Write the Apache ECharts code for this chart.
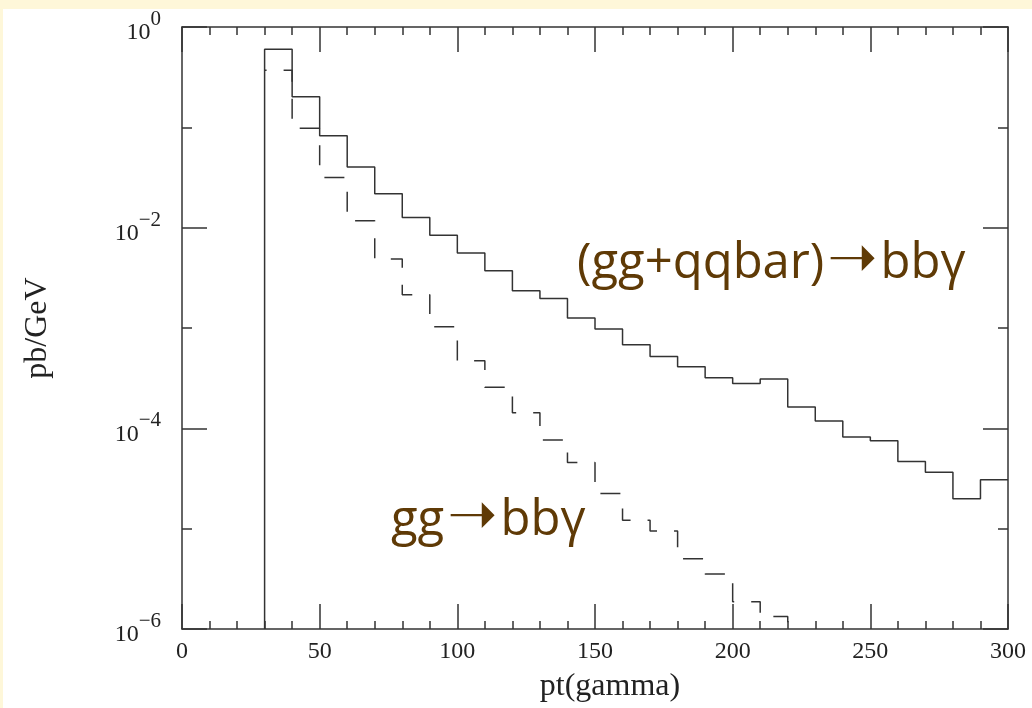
<!DOCTYPE html>
<html><head><meta charset="utf-8">
<script src="https://cdn.jsdelivr.net/npm/echarts@6/dist/echarts.min.js"></script>
<style>
html,body{margin:0;padding:0;background:#fef7d9;width:1032px;height:708px;overflow:hidden}
#chart{position:absolute;left:3px;top:9px;width:1029px;height:699px;background:#fff}
</style></head><body><div id="chart"></div>
<script>
// bin lower edges (GeV), bin width 10
const binStarts = [30,40,50,60,70,80,90,100,110,120,130,140,150,160,170,180,190,200,210,220,230,240,250,260,270,280,290];
const binWidth = 10;
// (gg+qqbar) -> bb gamma, pb/GeV
const sumValues = [0.60,0.202,0.0826,0.0403,0.0218,0.0126,0.0084,0.0056,0.00373,0.00235,0.00197,0.00126,0.00098,0.00068,0.00052,0.00041,0.00032,0.00028,0.00031,0.000163,0.000118,0.000082,0.000075,0.0000467,0.0000364,0.0000199,0.0000308];
// gg -> bb gamma, pb/GeV (bins 30..210; below axis afterwards)
const ggValues = [0.37,0.098,0.0316,0.0117,0.00486,0.00215,0.00103,0.000471,0.000257,0.000143,0.0000764,0.0000456,0.0000224,0.0000121,0.0000095,0.0000050,0.00000353,0.00000187,0.00000133];
const xMin = 0, xMax = 300, xMajor = 50;
const yMin = 1e-6, yMax = 1;

function stepData(vals, fromAxis, toAxis) {
  const pts = fromAxis ? [[binStarts[0], yMin]] : [];
  vals.forEach((v, i) => pts.push([binStarts[i], v]));
  const lastEdge = binStarts[vals.length - 1] + binWidth;
  pts.push([lastEdge, vals[vals.length - 1]]);
  if (toAxis) pts.push([lastEdge, yMin]);
  return pts;
}

const INK = '#333';
const serif = '"Liberation Serif", "Times New Roman", serif';
const lineW = 1.5;

function supLabel(v) {
  const e = Math.round(Math.log10(v));
  return '{b|10}{s|' + (e < 0 ? '\u2212' + (-e) : String(e)) + '}';
}

const xCommon = {
  type: 'value', min: xMin, max: xMax, interval: xMajor,
  axisLine: {show: true, onZero: false, lineStyle: {color: INK, width: lineW}},
  axisTick: {show: true, inside: true, length: 25, lineStyle: {color: INK, width: lineW}},
  minorTick: {show: true, splitNumber: 5, length: 8, lineStyle: {color: INK, width: lineW}},
  splitLine: {show: false}, minorSplitLine: {show: false}
};

function yAxisDef(pos, base, len, labels, line) {
  return {
    type: 'log', logBase: base, min: yMin, max: yMax, position: pos,
    axisLine: {show: line, onZero: false, lineStyle: {color: INK, width: lineW}},
    axisTick: {show: true, inside: true, length: len, lineStyle: {color: INK, width: lineW}},
    splitLine: {show: false},
    axisLabel: labels ? {
      show: true, margin: 21, formatter: supLabel,
      rich: {
        b: {fontFamily: serif, fontSize: 24, color: '#222', verticalAlign: 'bottom', lineHeight: 36},
        s: {fontFamily: serif, fontSize: 21, color: '#222', verticalAlign: 'top', lineHeight: 36}
      }
    } : {show: false}
  };
}

const annoFont = '"Open Sans", "Noto Sans", sans-serif';
const annoColor = '#5f3a06';
const annoRich = {
  t: {fontFamily: annoFont, fontSize: 49, fill: annoColor, color: annoColor},
  a: {fontFamily: '"DejaVu Sans"', fontSize: 60, fill: annoColor, color: annoColor, padding: [0, 3, 6, 3]}
};

const chart = echarts.init(document.getElementById('chart'), null, {renderer: 'canvas'});
chart.setOption({
  animation: false,
  backgroundColor: '#fff',
  grid: {left: 179, right: 24, top: 14, bottom: 77, containLabel: false},
  xAxis: [
    Object.assign({}, xCommon, {
      position: 'bottom',
      axisLabel: {show: true, margin: 11, fontFamily: serif, fontSize: 24, color: '#222'},
      name: 'pt(gamma)', nameLocation: 'middle', nameGap: 42,
      nameTextStyle: {fontFamily: serif, fontSize: 32, color: '#222', padding: [0, 0, 0, 30]}
    }),
    Object.assign({}, xCommon, {position: 'top', axisLabel: {show: false}})
  ],
  yAxis: [
    Object.assign(yAxisDef('left', 100, 25, true, true), {
      name: 'pb/GeV', nameLocation: 'middle', nameRotate: 90, nameGap: 128,
      nameTextStyle: {fontFamily: serif, fontSize: 32, color: '#222'}
    }),
    yAxisDef('left', 10, 10, false, false),
    yAxisDef('right', 100, 25, false, true),
    yAxisDef('right', 10, 10, false, false)
  ],
  series: [
    {
      type: 'line', name: '(gg+qqbar)', step: 'end', xAxisIndex: 0, yAxisIndex: 0,
      data: stepData(sumValues, true, false), showSymbol: false, symbol: 'none',
      lineStyle: {color: INK, width: lineW}, clip: true
    },
    {
      type: 'line', name: 'gg', step: 'end', xAxisIndex: 0, yAxisIndex: 0,
      data: stepData(ggValues, false, true), showSymbol: false, symbol: 'none',
      lineStyle: {color: INK, width: lineW, type: [20, 17], dashOffset: 18}, clip: true
    }
  ],
  graphic: [
    {type: 'text', left: 574, top: 222, style: {text: '{t|(gg+qqbar)}{a|\u279d}{t|bb\u03b3}', rich: annoRich}},
    {type: 'text', left: 388, top: 479, style: {text: '{t|gg}{a|\u279d}{t|bb\u03b3}', rich: annoRich}}
  ]
});
</script></body></html>
